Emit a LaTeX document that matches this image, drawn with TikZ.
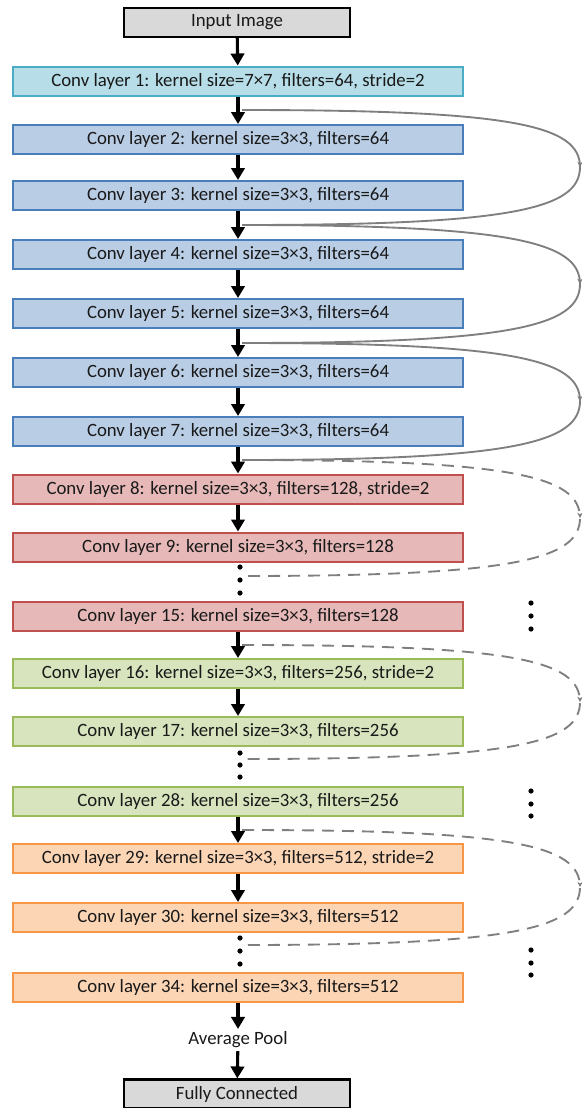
\documentclass[tikz,border=0pt]{standalone}
\usepackage{fontspec}
\setmainfont{Carlito}
\usetikzlibrary{arrows.meta,decorations.markings}

\definecolor{ioFill}{HTML}{D9D9D9}
\definecolor{cyanFill}{HTML}{B7DEE8}
\definecolor{cyanLine}{HTML}{4BACC6}
\definecolor{blueFill}{HTML}{B9CDE5}
\definecolor{blueLine}{HTML}{4A7EBB}
\definecolor{redFill}{HTML}{E6B9B8}
\definecolor{redLine}{HTML}{C0504D}
\definecolor{greenFill}{HTML}{D7E4BD}
\definecolor{greenLine}{HTML}{9BBB59}
\definecolor{orangeFill}{HTML}{FCD5B5}
\definecolor{orangeLine}{HTML}{F79646}
\definecolor{skipGray}{HTML}{7F7F7F}

\begin{document}
\begin{tikzpicture}[x=0.75pt,y=-0.75pt]
        \tikzstyle{every node}+=[inner sep=0pt, text=black!90, font=\fontsize{14.1}{16}\selectfont]
        \tikzstyle{layer}=[draw, line width=1.5pt, minimum width=337.5pt, minimum height=21.75pt]
        \tikzstyle{iobox}=[draw=black, fill=ioFill, line width=1.6pt, minimum width=169.5pt, minimum height=21.75pt]
        \tikzstyle{flow}=[line width=2.3pt, -{Triangle[length=9pt,width=10pt]}]
        \tikzstyle{skip}=[skipGray, line width=1.4pt, postaction={decorate},
            decoration={markings, mark=at position 0.5 with {\arrow{Stealth[length=4pt,width=4pt]}}}]
        \tikzstyle{skipdash}=[skip, dash pattern=on 9pt off 6pt]
        \useasboundingbox (0,0) rectangle (582,1108);
        % layers
        \node [iobox] (in) at (237,22.5) {Input Image};
        \node [layer, fill=cyanFill, draw=cyanLine] (c1) at (238,81) {Conv layer 1: kernel size=7×7, filters=64, stride=2};
        \node [layer, fill=blueFill, draw=blueLine] (c2) at (238,139.5) {Conv layer 2: kernel size=3×3, filters=64};
        \node [layer, fill=blueFill, draw=blueLine] (c3) at (238,195.5) {Conv layer 3: kernel size=3×3, filters=64};
        \node [layer, fill=blueFill, draw=blueLine] (c4) at (238,254.5) {Conv layer 4: kernel size=3×3, filters=64};
        \node [layer, fill=blueFill, draw=blueLine] (c5) at (238,313.5) {Conv layer 5: kernel size=3×3, filters=64};
        \node [layer, fill=blueFill, draw=blueLine] (c6) at (238,372.5) {Conv layer 6: kernel size=3×3, filters=64};
        \node [layer, fill=blueFill, draw=blueLine] (c7) at (238,431.5) {Conv layer 7: kernel size=3×3, filters=64};
        \node [layer, fill=redFill, draw=redLine] (c8) at (238,489) {Conv layer 8: kernel size=3×3, filters=128, stride=2};
        \node [layer, fill=redFill, draw=redLine] (c9) at (238,547) {Conv layer 9: kernel size=3×3, filters=128};
        \node [layer, fill=redFill, draw=redLine] (c15) at (238,616.5) {Conv layer 15: kernel size=3×3, filters=128};
        \node [layer, fill=greenFill, draw=greenLine] (c16) at (238,673.5) {Conv layer 16: kernel size=3×3, filters=256, stride=2};
        \node [layer, fill=greenFill, draw=greenLine] (c17) at (238,731.5) {Conv layer 17: kernel size=3×3, filters=256};
        \node [layer, fill=greenFill, draw=greenLine] (c28) at (238,801.5) {Conv layer 28: kernel size=3×3, filters=256};
        \node [layer, fill=orangeFill, draw=orangeLine] (c29) at (238,858.5) {Conv layer 29: kernel size=3×3, filters=512, stride=2};
        \node [layer, fill=orangeFill, draw=orangeLine] (c30) at (238,917.5) {Conv layer 30: kernel size=3×3, filters=512};
        \node [layer, fill=orangeFill, draw=orangeLine] (c34) at (238,987.5) {Conv layer 34: kernel size=3×3, filters=512};
        \node [inner sep=2pt] (pool) at (238,1040) {Average Pool};
        \node [iobox] (fc) at (237,1094) {Fully Connected};
        % forward arrows
        \draw [flow] (in) -- (c1);
        \draw [flow] (c1) -- (c2);
        \draw [flow] (c2) -- (c3);
        \draw [flow] (c3) -- (c4);
        \draw [flow] (c4) -- (c5);
        \draw [flow] (c5) -- (c6);
        \draw [flow] (c6) -- (c7);
        \draw [flow] (c7) -- (c8);
        \draw [flow] (c8) -- (c9);
        \draw [flow] (c15) -- (c16);
        \draw [flow] (c16) -- (c17);
        \draw [flow] (c28) -- (c29);
        \draw [flow] (c29) -- (c30);
        \draw [flow] (c34) -- (pool);
        \draw [flow] (pool) -- (fc);
        % skip connections
        \coordinate (k1) at (242,110);
        \coordinate (k2) at (242,225);
        \coordinate (k3) at (242,343);
        \coordinate (k4) at (242,460);
        \coordinate (k5) at (242,576);
        \coordinate (k6) at (242,645);
        \coordinate (k7) at (242,759);
        \coordinate (k8) at (242,830);
        \coordinate (k9) at (242,945);
        \coordinate (r1) at (580,167);
        \coordinate (r2) at (580,284);
        \coordinate (r3) at (580,401);
        \coordinate (r4) at (580,518);
        \coordinate (r5) at (580,702);
        \coordinate (r6) at (580,887);
        \draw [skip] (k1) .. controls +(270,0) and +(0,-42) .. (r1) .. controls +(0,42) and +(270,0) .. (k2);
        \draw [skip] (k2) .. controls +(270,0) and +(0,-42) .. (r2) .. controls +(0,42) and +(270,0) .. (k3);
        \draw [skip] (k3) .. controls +(270,0) and +(0,-42) .. (r3) .. controls +(0,42) and +(270,0) .. (k4);
        \draw [skipdash] (k4) .. controls +(270,0) and +(0,-42) .. (r4) .. controls +(0,42) and +(270,0) .. (k5);
        \draw [skipdash] (k6) .. controls +(270,0) and +(0,-42) .. (r5) .. controls +(0,42) and +(270,0) .. (k7);
        \draw [skipdash] (k8) .. controls +(270,0) and +(0,-42) .. (r6) .. controls +(0,42) and +(270,0) .. (k9);
        % dots
        \fill (240,567) circle (2.6);
        \fill (240,580) circle (2.6);
        \fill (240,593) circle (2.6);
        \fill (240,753) circle (2.6);
        \fill (240,765) circle (2.6);
        \fill (240,777) circle (2.6);
        \fill (240,938) circle (2.6);
        \fill (240,951) circle (2.6);
        \fill (240,964) circle (2.6);
        \fill (531,603) circle (2.6);
        \fill (531,616) circle (2.6);
        \fill (531,629) circle (2.6);
        \fill (531,791) circle (2.6);
        \fill (531,804) circle (2.6);
        \fill (531,816) circle (2.6);
        \fill (531,950) circle (2.6);
        \fill (531,963) circle (2.6);
        \fill (531,975) circle (2.6);
\end{tikzpicture}
\end{document}
